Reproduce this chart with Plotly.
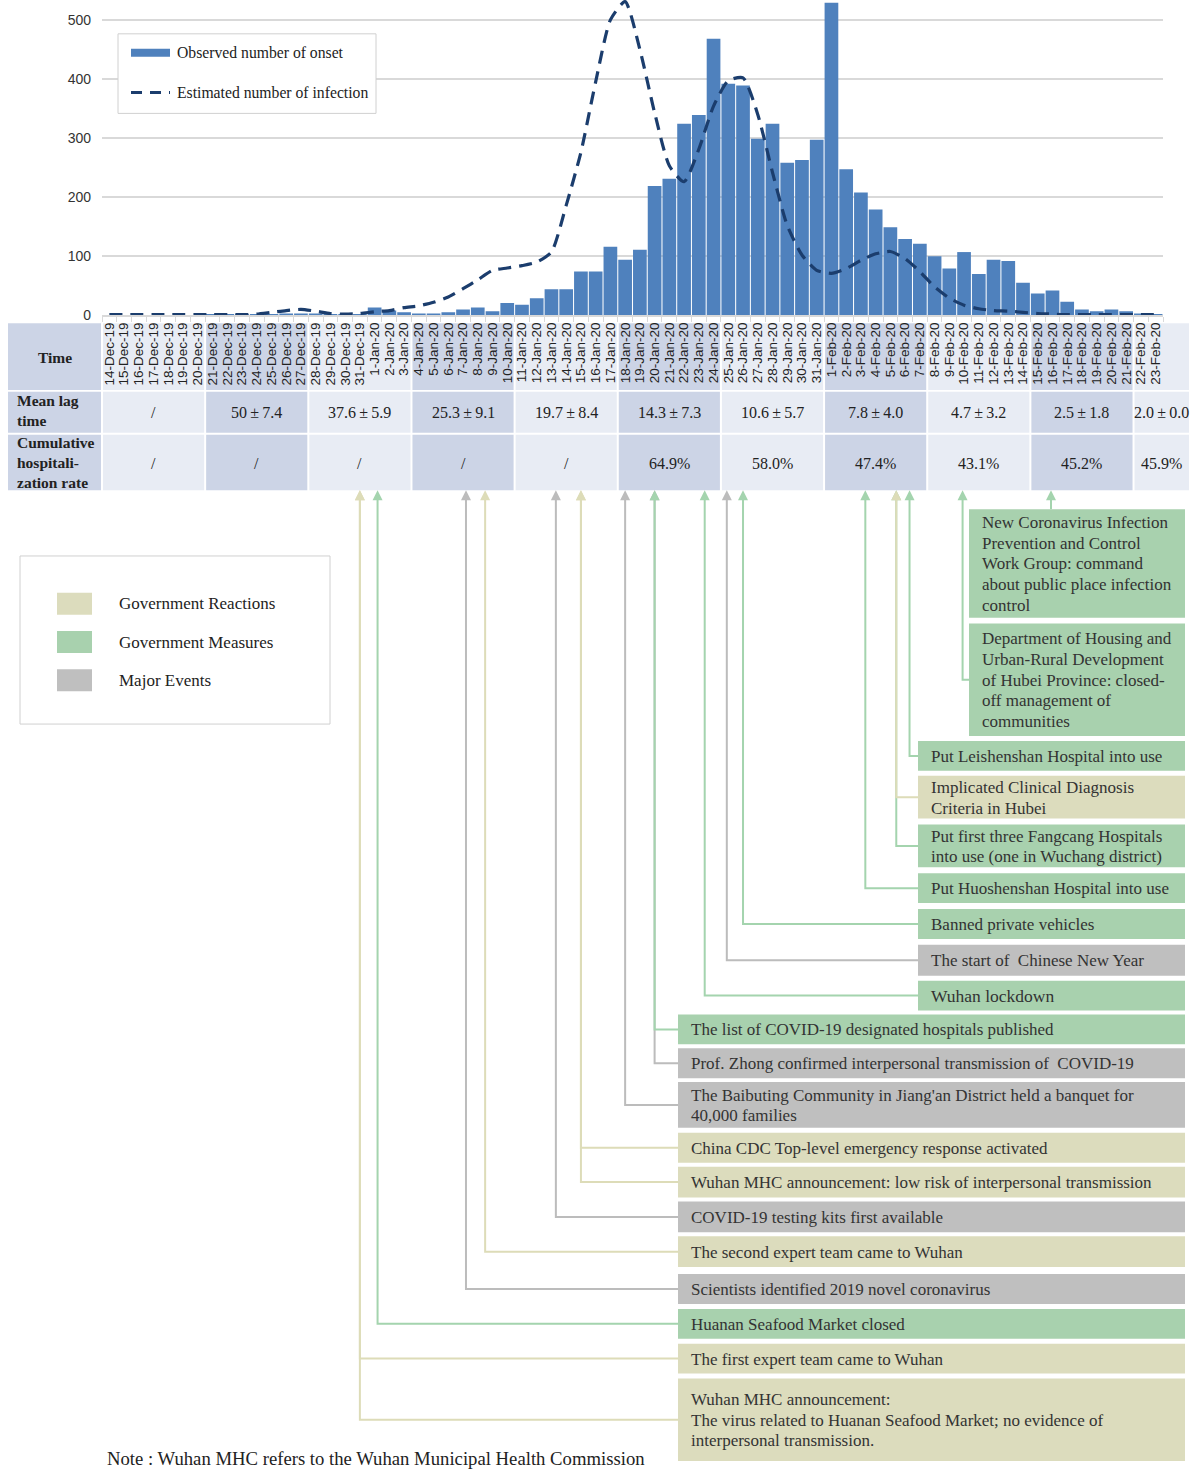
import plotly.graph_objects as go

W, H = 1198, 1478

# ---------------- data ----------------
dec_days = [f"{d}-Dec-19" for d in range(14, 32)]
jan_days = [f"{d}-Jan-20" for d in range(1, 32)]
feb_days = [f"{d}-Feb-20" for d in range(1, 24)]
dates = dec_days + jan_days + feb_days

onset = [0, 0, 0, 0, 0, 0, 0, 1, 2, 2, 2, 1, 3, 3, 3, 1, 1, 2,
         13, 8, 5, 3, 3, 5, 10, 13, 7, 21, 18, 29, 44, 44, 74, 74, 116, 94,
         111, 219, 231, 324, 339, 468, 392, 389, 299, 324, 258, 263, 297,
         529, 247, 208, 179, 149, 129, 121, 100, 79, 107, 70, 94, 92, 55,
         37, 42, 23, 10, 7, 10, 7, 3, 2]

infection = [1, 1, 1, 1, 1, 1, 1, 1, 1, 1, 2, 5, 8, 10, 7, 3, 2, 3,
             6, 8, 13, 16, 22, 31, 45, 60, 76, 80, 84, 90, 107, 186, 276, 395,
             500, 531, 450, 343, 253, 226, 281, 354, 397, 402, 340, 242, 152,
             102, 76, 71, 79, 93, 104, 108, 96, 74, 48, 29, 17, 11, 8, 7, 5,
             3, 2, 1, 1, 1, 1, 1, 1, 1]

y_ticks = [0, 100, 200, 300, 400, 500]

mean_lag = ["/", "50±7.4", "37.6±5.9", "25.3±9.1", "19.7±8.4", "14.3±7.3",
            "10.6±5.7", "7.8±4.0", "4.7±3.2", "2.5±1.8", "2.0±0.0"]
hosp_rate = ["/", "/", "/", "/", "/", "64.9%", "58.0%", "47.4%", "43.1%",
             "45.2%", "45.9%"]

event_text = [
    ["New Coronavirus Infection", "Prevention and Control", "Work Group: command",
     "about public place infection", "control"],
    ["Department of Housing and", "Urban-Rural Development",
     "of Hubei Province: closed-", "off management of", "communities"],
    ["Put Leishenshan Hospital into use"],
    ["Implicated Clinical Diagnosis", "Criteria in Hubei"],
    ["Put first three Fangcang Hospitals", "into use (one in Wuchang district)"],
    ["Put Huoshenshan Hospital into use"],
    ["Banned private vehicles"],
    ["The start of  Chinese New Year"],
    ["Wuhan lockdown"],
    ["The list of COVID-19 designated hospitals published"],
    ["Prof. Zhong confirmed interpersonal transmission of  COVID-19"],
    ["The Baibuting Community in Jiang'an District held a banquet for", "40,000 families"],
    ["China CDC Top-level emergency response activated"],
    ["Wuhan MHC announcement: low risk of interpersonal transmission"],
    ["COVID-19 testing kits first available"],
    ["The second expert team came to Wuhan"],
    ["Scientists identified 2019 novel coronavirus"],
    ["Huanan Seafood Market closed"],
    ["The first expert team came to Wuhan"],
    ["Wuhan MHC announcement:",
     "The virus related to Huanan Seafood Market; no evidence of",
     "interpersonal transmission."],
]
event_type = ["M", "M", "M", "R", "M", "M", "M", "E", "M", "M",
              "E", "E", "R", "R", "E", "R", "E", "M", "R", "R"]
# position on the date axis (category units) each arrow points to
event_pos = [63.9, 57.9, 54.3, 53.4, 53.4, 51.3, 43.0, 41.9, 40.4, 37.0,
             37.0, 35.0, 32.0, 32.0, 30.3, 25.5, 24.2, 18.2, 17.0, 17.0]

legend_labels = ["Government Reactions", "Government Measures", "Major Events"]
legend_types = ["R", "M", "E"]

# ---------------- layout / style (pixels) ----------------
X0, X1 = 102, 1163          # plot area x (pixels)
Y_ZERO = 317                # pixel of y = 0
PX_PER_UNIT = (317 - 20) / 500.0
Y_MAX = Y_ZERO / PX_PER_UNIT

box_left = [969, 969] + [918] * 7 + [678] * 11
box_top = [512, 627, 745, 780, 829, 878, 914, 950, 986, 1020, 1054, 1088,
           1139, 1173, 1208, 1243, 1281, 1316, 1351, 1386]
box_bot = [621, 740, 775, 823, 872, 908, 944, 981, 1016, 1050, 1084, 1134,
           1169, 1204, 1239, 1274, 1311, 1346, 1381, 1469]
BOX_RIGHT = 1185
LINE_STEP = 20.8

box_fill = {"R": "#dcdcbd", "M": "#a8d1ae", "E": "#bfbfbf"}
line_col = {"R": "#dddcb8", "M": "#a4d4ae", "E": "#bcbcbc"}

SERIF = "Liberation Serif, Times New Roman, serif"
SANS = "Liberation Sans, Arial, sans-serif"
N = len(dates)
THIN = "\u2009"


def px(p):
    return p / W


def py(p):
    return 1 - p / H


def cat_px(c):
    return X0 + (c + 0.5) * (X1 - X0) / N


def note(x, y, text, size, xa="center", color="#222", align="center"):
    return dict(x=px(x), y=py(y), xref="paper", yref="paper", text=text,
                showarrow=False, xanchor=xa, yanchor="middle", align=align,
                font=dict(family=SERIF, size=size, color=color))


fig = go.Figure()
fig.add_trace(go.Bar(x=dates, y=onset, marker=dict(color="#4f81bd", line=dict(width=0)),
                     name="Observed number of onset", showlegend=False))
fig.add_trace(go.Scatter(x=dates, y=infection, mode="lines",
                         line=dict(color="#1b3d6d", width=3.2, dash="13px,8px",
                                   shape="spline", smoothing=0.6),
                         name="Estimated number of infection", showlegend=False,
                         cliponaxis=False))

shapes = []
annots = []

# ---------------- table ----------------
LIGHT, DARK = "#e8ecf4", "#ccd4e6"
rows = [(325, 392), (394, 435), (437, 493)]
bounds = [cat_px(7 * g - 0.5) for g in range(len(mean_lag))] + [1190]
for (t, b) in rows:
    shapes.append(dict(type="rect", xref="paper", yref="paper", x0=px(8), x1=px(101),
                       y0=py(b), y1=py(t), fillcolor=DARK, line=dict(width=0), layer="below"))
    for g in range(len(mean_lag)):
        shapes.append(dict(type="rect", xref="paper", yref="paper",
                           x0=px(bounds[g] + 1), x1=px(bounds[g + 1] - 1),
                           y0=py(b), y1=py(t), fillcolor=DARK if g % 2 else LIGHT,
                           line=dict(width=0), layer="below"))

annots.append(note(55, 359, "<b>Time</b>", 15.5))
annots.append(note(15, 413, "<b>Mean lag<br>time</b>", 15.5, xa="left", align="left"))
annots.append(note(15, 465, "<b>Cumulative<br>hospitali-<br>zation rate</b>", 15.5,
                   xa="left", align="left"))
for g in range(len(mean_lag)):
    cxp = (bounds[g] + bounds[g + 1]) / 2
    annots.append(note(cxp, 415, mean_lag[g].replace("±", THIN + "±" + THIN), 16))
    annots.append(note(cxp, 466, hosp_rate[g], 16))

# ---------------- top legend ----------------
shapes.append(dict(type="rect", xref="paper", yref="paper", x0=px(118), x1=px(376),
                   y0=py(114), y1=py(34), fillcolor="white",
                   line=dict(color="#d0d0d0", width=1), layer="above"))
shapes.append(dict(type="rect", xref="paper", yref="paper", x0=px(131), x1=px(170),
                   y0=py(57), y1=py(49), fillcolor="#4f81bd", line=dict(width=0),
                   layer="above"))
shapes.append(dict(type="line", xref="paper", yref="paper", x0=px(131), x1=px(170),
                   y0=py(93), y1=py(93),
                   line=dict(color="#1b3d6d", width=3.2, dash="11px,8px"), layer="above"))
annots.append(note(175, 53, "Observed number of onset", 15.7, xa="left"))
annots.append(note(175, 93, "Estimated number of infection", 15.7, xa="left"))

# ---------------- bottom legend ----------------
shapes.append(dict(type="rect", xref="paper", yref="paper", x0=px(20), x1=px(330),
                   y0=py(728), y1=py(559), fillcolor="white",
                   line=dict(color="#d0d0d0", width=1)))
for i, (lab, tp) in enumerate(zip(legend_labels, legend_types)):
    yc = 607 + i * 38.5
    shapes.append(dict(type="rect", xref="paper", yref="paper", x0=px(57), x1=px(92),
                       y0=py(yc + 11), y1=py(yc - 11), fillcolor=box_fill[tp],
                       line=dict(width=0)))
    annots.append(note(117, yc, lab, 17, xa="left"))

# ---------------- event connectors (longest first) ----------------
ARROW_TIP, ARROW_BASE = 493, 502
order = sorted(range(len(event_text)), key=lambda i: -(box_top[i] + box_bot[i]))
for i in order:
    x = cat_px(event_pos[i])
    col = line_col[event_type[i]]
    yc = (box_top[i] + box_bot[i]) / 2
    if box_left[i] <= x <= BOX_RIGHT:
        path = f"M {px(x)},{py(ARROW_BASE)} L {px(x)},{py(box_top[i])}"
    else:
        path = (f"M {px(x)},{py(ARROW_BASE)} L {px(x)},{py(yc)} "
                f"L {px(box_left[i])},{py(yc)}")
    shapes.append(dict(type="path", xref="paper", yref="paper", path=path,
                       line=dict(color=col, width=2)))
    tri = (f"M {px(x - 5)},{py(ARROW_BASE + 1)} L {px(x + 5)},{py(ARROW_BASE + 1)} "
           f"L {px(x)},{py(ARROW_TIP)} Z")
    shapes.append(dict(type="path", xref="paper", yref="paper", path=tri,
                       fillcolor=col, line=dict(width=0)))

# ---------------- event boxes ----------------
for i, lines in enumerate(event_text):
    shapes.append(dict(type="rect", xref="paper", yref="paper", x0=px(box_left[i]),
                       x1=px(BOX_RIGHT), y0=py(box_bot[i]), y1=py(box_top[i]),
                       fillcolor=box_fill[event_type[i]], line=dict(width=0)))
    yc = (box_top[i] + box_bot[i]) / 2 + 0.5
    n = len(lines)
    for j, ln in enumerate(lines):
        annots.append(note(box_left[i] + 11, yc + (j - (n - 1) / 2) * LINE_STEP, ln,
                           17.5 if i == 8 else 17, xa="left", color="#333", align="left"))

annots.append(note(105, 1466, "Note : Wuhan MHC refers to the Wuhan Municipal Health Commission",
                   18.7, xa="left"))

fig.update_layout(
    width=W, height=H, margin=dict(l=0, r=0, t=0, b=0),
    paper_bgcolor="white", plot_bgcolor="rgba(0,0,0,0)",
    bargap=0.07, shapes=shapes, annotations=annots, showlegend=False,
    xaxis=dict(type="category", categoryorder="array", categoryarray=dates,
               range=[-0.5, N - 0.5], domain=[px(X0), px(X1)],
               tickmode="array", tickvals=dates, ticktext=dates,
               tickangle=-90, tickfont=dict(family=SANS, size=13.5, color="#222"),
               showgrid=False, showline=True, linecolor="#d9d9d9", linewidth=1.5,
               ticks="outside", tickson="boundaries", ticklen=5, tickcolor="#d9d9d9",
               zeroline=False),
    yaxis=dict(range=[0, Y_MAX], domain=[py(Y_ZERO), 1], tickvals=y_ticks,
               tickfont=dict(family=SANS, size=14, color="#333"),
               showgrid=True, gridcolor="#d9d9d9", gridwidth=1.5,
               zeroline=False, showline=False, ticklabelstandoff=10),
)

fig.write_html("out.html", config={"displayModeBar": False},
               post_script="document.body.style.margin='0';document.body.style.overflow='hidden';")
